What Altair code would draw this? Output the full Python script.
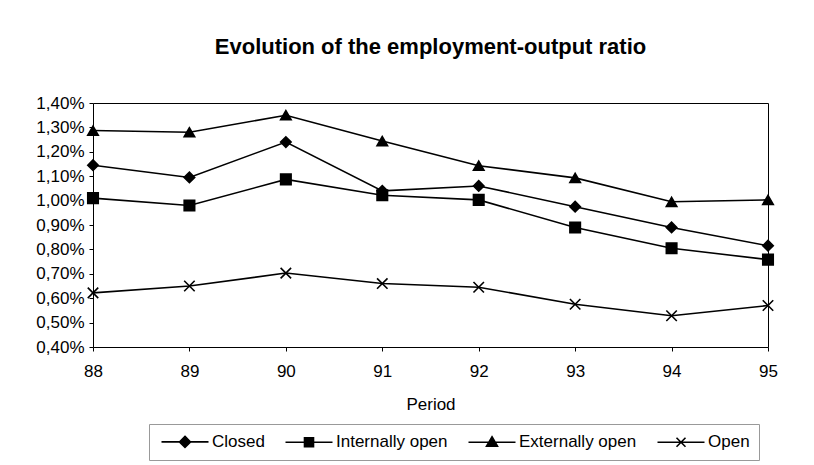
import altair as alt
import pandas as pd

periods = ["88", "89", "90", "91", "92", "93", "94", "95"]
series_names = ["Closed", "Internally open", "Externally open", "Open"]
closed = [1.145, 1.095, 1.24, 1.04, 1.06, 0.975, 0.89, 0.815]
internally_open = [1.01, 0.98, 1.087, 1.022, 1.003, 0.89, 0.805, 0.758]
externally_open = [1.287, 1.28, 1.35, 1.244, 1.143, 1.093, 0.995, 1.003]
open_ = [0.622, 0.65, 0.703, 0.66, 0.645, 0.575, 0.528, 0.57]
y_ticks = [0.4, 0.5, 0.6, 0.7, 0.8, 0.9, 1.0, 1.1, 1.2, 1.3, 1.4]

values = [closed, internally_open, externally_open, open_]
rows = []
for name, vals in zip(series_names, values):
    for p, v in zip(periods, vals):
        rows.append({"Period": p, "series": name, "value": v})
df = pd.DataFrame(rows)

marker_shapes = ["diamond", "square", "triangle-up", "M-1,-1L1,1M-1,1L1,-1"]
legend_shapes = [
    "M-1,0H8.4M3.7,-1.1L4.8,0L3.7,1.1L2.6,0Z",
    "M-1,0H8.4M2.8,-0.9H4.6V0.9H2.8Z",
    "M-1,0H8.4M3.7,-1.1L4.8,0.8H2.6Z",
    "M-1,0H8.4M2.8,-0.9L4.6,0.9M2.8,0.9L4.6,-0.9",
]
ink = ["black"] * len(series_names)
FONT = "Liberation Sans"

x_enc = alt.X("Period:O", scale=alt.Scale(type="point", padding=0),
              axis=alt.Axis(title="Period", labelAngle=0, labelPadding=12,
                            titlePadding=17, tickSize=4, domain=False))
y_enc = alt.Y("value:Q", scale=alt.Scale(domain=[0.4, 1.4], nice=False, zero=False),
              axis=alt.Axis(title=None, values=y_ticks, tickSize=4, grid=False,
                            domain=False, labelPadding=5,
                            labelExpr="replace(format(datum.value, '.2f'), '.', ',') + '%'"))

base = alt.Chart(df)

lines = base.mark_line(color="black", strokeWidth=1.6).encode(
    x=x_enc, y=y_enc, detail="series:N"
)

marker_layers = []
for name, shp in zip(series_names, marker_shapes):
    marker_layers.append(
        base.transform_filter(alt.datum.series == name).mark_point(
            shape=shp, filled=True, fill="black", stroke="black", strokeWidth=1.6,
            size=110, opacity=1).encode(x=x_enc, y=y_enc)
    )

leg = alt.Legend(title=None, orient="none", direction="horizontal",
                 legendX=56, legendY=321,
                 symbolSize=100, symbolStrokeWidth=1.6, labelOffset=37,
                 columnPadding=17, padding=9,
                 strokeColor="#999", labelFontSize=17,
                 labelFont=FONT, labelColor="black")

legend_layer = base.transform_filter("false").mark_point(
    strokeWidth=1.6, size=100, opacity=1
).encode(
    x=x_enc, y=y_enc,
    shape=alt.Shape("series:N",
                    scale=alt.Scale(domain=series_names, range=legend_shapes),
                    legend=leg),
    fill=alt.Fill("series:N", scale=alt.Scale(domain=series_names, range=ink), legend=leg),
    stroke=alt.Stroke("series:N", scale=alt.Scale(domain=series_names, range=ink), legend=leg),
)

chart = alt.layer(lines, *marker_layers, legend_layer).properties(
    width=675, height=244,
    title=alt.TitleParams("Evolution of the employment-output ratio",
                          font=FONT, fontSize=22, fontWeight="bold",
                          color="black", offset=35, anchor="middle"),
    padding={"left": 27, "top": 28, "right": 20, "bottom": 5},
).configure_view(stroke="black", strokeWidth=1).configure_axis(
    labelFont=FONT, labelFontSize=17, labelColor="black",
    titleFont=FONT, titleFontSize=17, titleColor="black",
    titleFontWeight="normal", tickColor="black"
)

chart.save("out.html", embed_options={"renderer": "svg", "actions": False})
